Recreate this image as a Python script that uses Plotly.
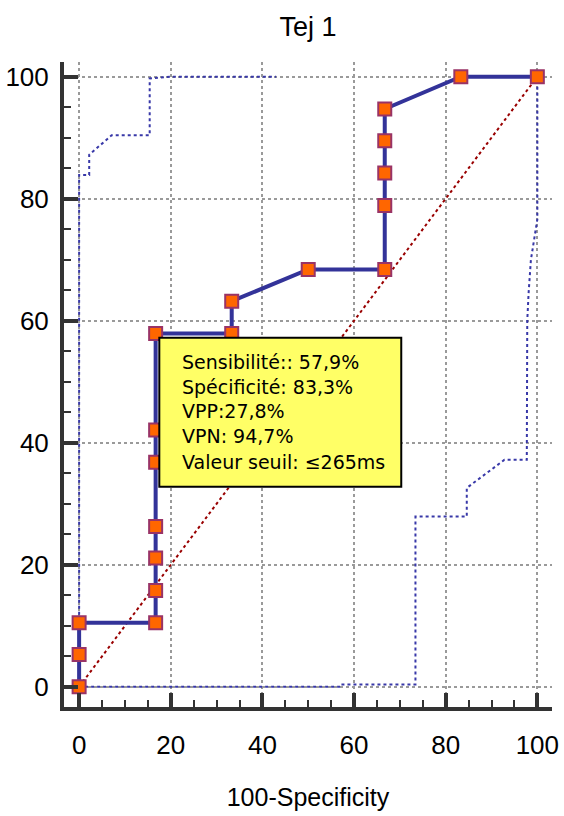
import plotly.graph_objects as go

# ROC curve (100-Specificity vs Sensitivity)
roc_fpr = [0, 0, 0, 16.7, 16.7, 16.7, 16.7, 16.7, 16.7, 16.7, 33.3, 33.3, 50.0,
           66.7, 66.7, 66.7, 66.7, 66.7, 83.3, 100]
roc_tpr = [0, 5.3, 10.5, 10.5, 15.8, 21.1, 26.3, 36.8, 42.1, 57.9, 57.9, 63.2, 68.4,
           68.4, 78.9, 84.2, 89.5, 94.7, 100, 100]

# Confidence bands
upper_x = [0, 0, 2.2, 2.2, 7.1, 15.4, 15.4, 20.2, 43]
upper_y = [0, 83.9, 83.9, 87.2, 90.4, 90.4, 99.7, 100, 100]
lower_x = [0, 57.0, 57.2, 73.4, 73.4, 84.6, 84.6, 92.8, 97.7, 97.8, 98.1, 98.6, 100, 100]
lower_y = [0, 0, 0.4, 0.4, 27.9, 27.9, 32.6, 37.2, 37.2, 60.0, 64.6, 70.0, 76.6, 100]

# Reference diagonal
diag_x = [0, 100]
diag_y = [0, 100]

box_lines = ["Sensibilité:: 57,9%", "Spécificité: 83,3%", "VPP:27,8%", "VPN: 94,7%",
             "Valeur seuil: \u2264265ms"]

title_text = "Tej 1"
x_title = "100-Specificity"
tick_vals = [0, 20, 40, 60, 80, 100]

band_color = "#3838A8"
fig = go.Figure()
fig.add_trace(go.Scatter(x=upper_x, y=upper_y, mode="lines",
                         line=dict(color=band_color, width=2, dash="dot"), hoverinfo="skip"))
fig.add_trace(go.Scatter(x=lower_x, y=lower_y, mode="lines",
                         line=dict(color=band_color, width=2, dash="dot"), hoverinfo="skip"))
fig.add_trace(go.Scatter(x=diag_x, y=diag_y, mode="lines",
                         line=dict(color="#990000", width=2, dash="dot"), hoverinfo="skip"))
fig.add_trace(go.Scatter(x=roc_fpr, y=roc_tpr, mode="lines+markers",
                         line=dict(color="#333399", width=4),
                         marker=dict(symbol="square", size=13, color="#FF6600",
                                     line=dict(color="#993366", width=2))))

# Info box
fig.add_shape(type="rect", xref="x", yref="y", x0=17.5, x1=70.3, y0=32.8, y1=57.2,
              fillcolor="#FFFF66", line=dict(color="black", width=2), layer="above")
line_y = [53.3, 49.2, 45.2, 41.1, 36.9]
for txt, yy in zip(box_lines, line_y):
    fig.add_annotation(x=22.0, y=yy, xref="x", yref="y", text=txt, showarrow=False,
                       xanchor="left", yanchor="middle",
                       font=dict(family="DejaVu Sans", size=19, color="black"))

axis_font = "Liberation Sans, Arial, sans-serif"
common = dict(
    showline=True, linecolor="#333333", linewidth=4, mirror=False,
    ticks="inside", ticklen=14, tickwidth=4, tickcolor="#333333",
    tickvals=tick_vals, zeroline=False, automargin=False, ticklabeloverflow="allow",
    showgrid=True, gridcolor="#9a9a9a", gridwidth=1.5, griddash="dot",
    minor=dict(dtick=5, ticks="inside", ticklen=7, tickwidth=2, tickcolor="#333333",
               showgrid=False),
    tickfont=dict(family=axis_font, size=26, color="black"),
)

fig.update_layout(
    width=564, height=816,
    margin=dict(l=64, r=12, t=62, b=109),
    paper_bgcolor="white", plot_bgcolor="white",
    showlegend=False,
    title=dict(text=title_text, x=0.5, xref="paper", xanchor="center", y=0.967,
               yanchor="middle", font=dict(family=axis_font, size=27, color="black")),
    xaxis=dict(range=[-3.3, 103.2], ticklabelstandoff=12,
               title=dict(text=x_title, standoff=30,
                          font=dict(family=axis_font, size=25, color="black")),
               **common),
    yaxis=dict(range=[-3.3, 102.4], ticklabelstandoff=6, **common),
)

fig.write_html("out.html")
